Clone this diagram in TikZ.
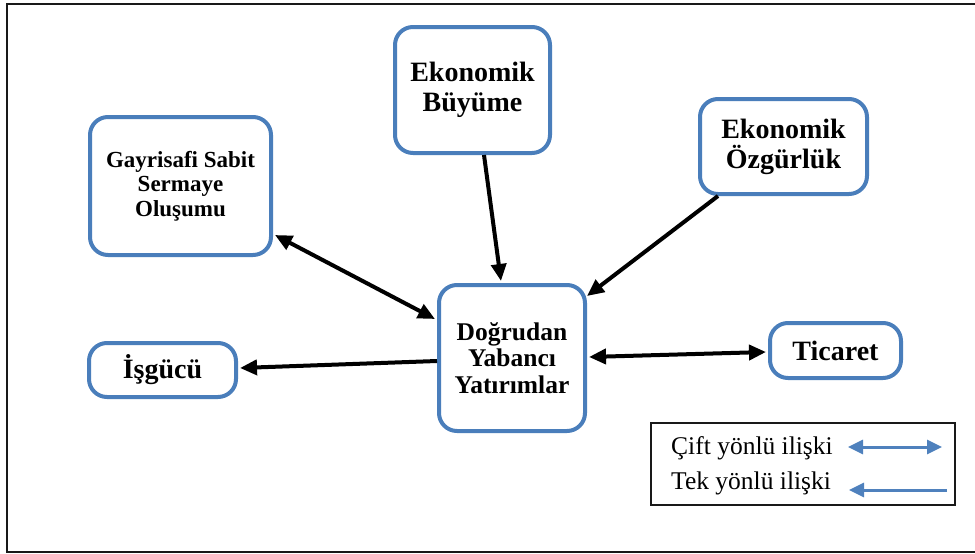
\documentclass[tikz,border=0pt]{standalone}
\usepackage{fontspec}
\setmainfont{Liberation Serif}
\usetikzlibrary{arrows.meta}
\definecolor{boxblue}{RGB}{74,126,187}
\definecolor{legblue}{RGB}{79,129,189}
\begin{document}
\begin{tikzpicture}[x=1pt,y=-1pt,
  box/.style={draw=boxblue, line width=4pt, rounded corners=18pt, fill=white, align=center, inner sep=0pt},
  bigfont/.style={font=\fontsize{28}{30}\selectfont\bfseries},
  conn/.style={line width=4pt, -{Triangle[length=17pt,width=15pt]}},
  conntwo/.style={line width=4pt, {Triangle[length=17pt,width=15pt]}-{Triangle[length=17pt,width=15pt]}},
  legarrow/.style={draw=legblue, line width=3pt},
  legtip/.tip={Triangle[length=15pt,width=14pt]},
  legtext/.style={anchor=west, inner sep=0pt, font=\fontsize{25.5}{27}\selectfont}
]
\useasboundingbox (0,0) rectangle (975,554);
\draw[line width=2pt, black!90] (975,4) -- (7,4) -- (7,552) -- (975,552);

\node[box, bigfont, minimum width=155pt, minimum height=126pt] (eb) at (472.5,90) {Ekonomik\\Büyüme};
\node[box, bigfont, minimum width=167pt, minimum height=95pt] (eo) at (783.5,146.5) {Ekonomik\\Özgürlük};
\node[box, font=\fontsize{23}{24.5}\selectfont\bfseries, minimum width=181pt, minimum height=138pt] (gs) at (180.5,186) {Gayrisafi Sabit\\Sermaye\\Oluşumu};
\node[box, bigfont, minimum width=147pt, minimum height=54pt] (is) at (162.5,370) {İşgücü};
\node[box, font=\fontsize{25.5}{26.5}\selectfont\bfseries, minimum width=146pt, minimum height=146pt] (dyy) at (512,358) {Doğrudan\\Yabancı\\Yatırımlar};
\node[box, bigfont, minimum width=131pt, minimum height=55pt] (tc) at (835.5,350.5) {Ticaret};

\draw[conn] ([xshift=11.5pt]eb.south) -- ([xshift=-11pt,yshift=2pt]dyy.north);
\draw[conn] ([xshift=-65.5pt]eo.south) -- ([yshift=-13pt]dyy.north east);
\draw[conntwo] ([xshift=2pt,yshift=22pt]gs.south east) -- ([xshift=-2pt,yshift=39pt]dyy.west);
\draw[conn] ([yshift=-3pt]dyy.west) -- ([xshift=2pt,yshift=2pt]is.east);
\draw[conntwo] ([xshift=2pt,yshift=1pt]dyy.east) -- ([xshift=-2pt,yshift=-1.5pt]tc.west);

\node[draw=black!90, line width=2pt, minimum width=304pt, minimum height=82pt, inner sep=0pt] (leg) at (803,464) {};
\node[legtext] (l1) at (671,448) {Çift yönlü ilişki};
\node[legtext] (l2) at (671,483) {Tek yönlü ilişki};
\coordinate (a1) at (848,447);
\coordinate (a2) at (942,447);
\coordinate (b1) at (947,490);
\coordinate (b2) at (849,490);
\draw[legarrow, legtip-legtip] (a1) -- (a2);
\draw[legarrow, -legtip] (b1) -- (b2);
\end{tikzpicture}
\end{document}
